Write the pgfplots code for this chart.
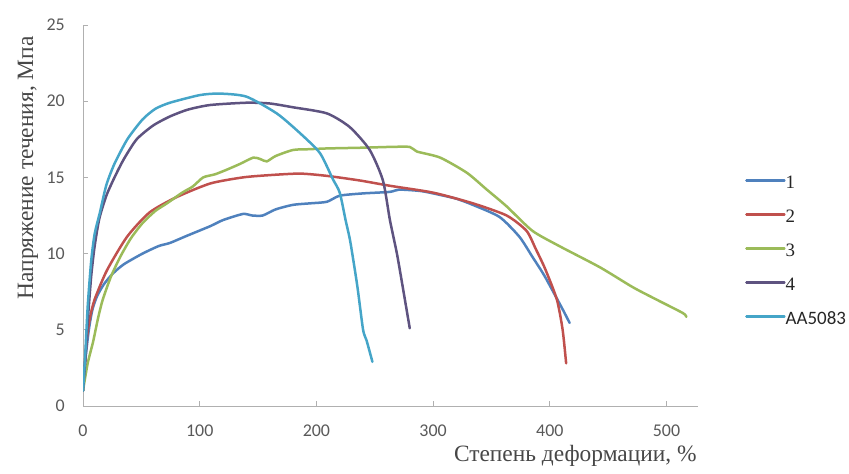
\documentclass[border=0pt]{standalone}
\usepackage{pgfplots}
\pgfplotsset{compat=1.18}
\usepackage{fontspec}
\setmainfont{Liberation Serif}
\newfontfamily\carlito{Carlito}
\definecolor{c1}{HTML}{4F81BD}
\definecolor{c2}{HTML}{C0504D}
\definecolor{c3}{HTML}{9BBB59}
\definecolor{c4}{HTML}{5E5380}
\definecolor{c5}{HTML}{45A5C8}
\definecolor{axgray}{HTML}{B0B0B0}
\definecolor{tickgray}{HTML}{595959}
\begin{document}
\begin{tikzpicture}[x=1bp,y=1bp]
\path[use as bounding box] (0,0) rectangle (849,-474);
\begin{axis}[
  at={(83bp,-406bp)}, anchor=south west,
  scale only axis, width=615bp, height=381bp,
  xmin=0, xmax=527, ymin=0, ymax=25,
  axis x line=bottom, axis y line=left,
  axis line style={-, axgray, line width=0.9bp},
  xtick={0,100,...,500}, ytick={0,5,...,25},
  tick align=inside, major tick length=5bp,
  tick style={axgray, line width=0.8bp},
  tick label style={font=\fontsize{18}{18}\carlito, text=tickgray, inner sep=0pt},
  /pgf/number format/assume math mode=true,
  xticklabel style={anchor=center, yshift=-25bp},
  yticklabel style={anchor=east, xshift=-18bp},
  xlabel={Степень деформации, \%},
  ylabel={Напряжение течения, Мпа},
  label style={font=\fontsize{23.5}{23.5}\selectfont, text=tickgray!80!black, inner sep=0pt},
  xlabel style={at={(axis description cs:0.998,-0.131)}, anchor=east},
  ylabel style={at={(axis description cs:-0.0894,0.625)}, anchor=center},
  legend style={at={(axis description cs:1.0715,0.61)}, anchor=north west, draw=none, fill=none,
    legend cell align=left, row sep=21bp,
    nodes={inner sep=0pt, text height=13bp, text depth=0bp, font=\fontsize{19}{19}\selectfont, text=black!85}},
  legend image code/.code={\draw[#1, line width=2.5bp] (0bp,2bp) -- (38bp,2bp);},
  every axis plot/.append style={line width=2.5bp, line join=round, line cap=round, smooth, tension=0.4},
]
\addplot[c1] coordinates {
(0,1.0) (2,3.0) (5,5.0) (8,6.3) (12,7.2) (18,8.0) (25.7,8.7) (35,9.3) (51,10.0) (65,10.5) (74.5,10.7) (90,11.2) (109,11.8) (120,12.2) (137,12.6) (145,12.5) (154,12.5) (165,12.9) (180,13.2) (195,13.3) (209,13.4) (220,13.8) (240,13.95) (263,14.05) (271,14.2) (290,14.1) (306,13.85) (320,13.6) (334,13.2) (357,12.4) (374,11.1) (385,9.8) (395,8.6) (405,7.2) (412,6.2) (417,5.45)
};
\addlegendentry{1}
\addplot[c2] coordinates {
(0,1.0) (3,4.2) (6,5.8) (10,7.0) (20.5,8.9) (37.7,11.1) (57,12.7) (80,13.7) (109,14.6) (137,15.0) (160,15.15) (186,15.25) (209,15.1) (237,14.8) (263,14.45) (300,14.0) (334,13.3) (363,12.5) (380,11.5) (388,10.3) (396,9.0) (406,7.0) (411,5.0) (414,2.8)
};
\addlegendentry{2}
\addplot[c3] coordinates {
(0,1.0) (4,2.8) (8.6,4.2) (13,5.8) (17,7.0) (24,8.5) (32,9.8) (41,11.0) (51,12.0) (62,12.8) (72,13.3) (85,14.0) (94,14.4) (103,15.0) (113,15.2) (123,15.5) (135,15.9) (146,16.3) (152,16.2) (157.5,16.05) (165,16.4) (180,16.8) (194,16.85) (209,16.9) (240,16.95) (263,17.0) (280,17.0) (286,16.7) (306,16.3) (329,15.3) (346,14.2) (363,13.1) (385,11.5) (408,10.5) (443,9.1) (471,7.8) (491,7.0) (514,6.1) (517,5.85)
};
\addlegendentry{3}
\addplot[c4] coordinates {
(0,1.0) (2,3.0) (4,5.5) (7,8.5) (10,10.5) (14,12.3) (20,13.8) (27,15.0) (35,16.2) (46,17.5) (60,18.4) (74.5,19.0) (90,19.45) (109,19.75) (140,19.9) (160,19.85) (180,19.6) (209,19.2) (228.6,18.3) (245.7,16.8) (257,14.8) (263,12.2) (269,10.0) (274,7.8) (280,5.1)
};
\addlegendentry{4}
\addplot[c5] coordinates {
(0,1.0) (2,3.5) (4,6.5) (7,9.5) (10,11.3) (14.5,12.7) (20,14.5) (27,15.9) (38,17.5) (51,18.8) (62,19.5) (74.5,19.9) (100,20.4) (117,20.5) (140,20.3) (166,19.2) (186,17.9) (203,16.6) (214,14.9) (220,14.0) (225,12.2) (229,10.8) (235,7.9) (240,5.0) (243,4.3) (248,2.9)
};
\addlegendentry{\carlito AA5083}
\end{axis}
\end{tikzpicture}
\end{document}
